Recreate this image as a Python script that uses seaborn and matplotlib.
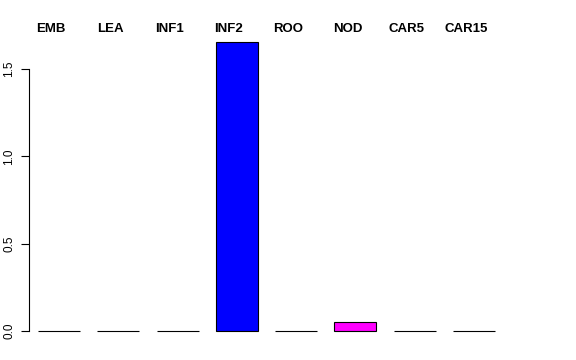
import matplotlib
matplotlib.use("Agg")
import matplotlib.pyplot as plt
import matplotlib.transforms as mtransforms
import seaborn as sns
import pandas as pd

categories = ["EMB", "LEA", "INF1", "INF2", "ROO", "NOD", "CAR5", "CAR15"]
values = [0.0, 0.0, 0.0, 1.655, 0.0, 0.054, 0.0, 0.0]
bar_colors = ["#FF0000", "#FF8000", "#FFFF00", "#0000FF", "#00FF00", "#FF00FF", "#00FFFF", "#808080"]
y_ticks = [0.0, 0.5, 1.0, 1.5]
y_tick_labels = ["0.0", "0.5", "1.0", "1.5"]

sns.set_style("white")
plt.rcParams["font.family"] = ["Liberation Sans", "DejaVu Sans"]
plt.rcParams["text.color"] = "black"
plt.rcParams["ytick.color"] = "black"
plt.rcParams["ytick.labelcolor"] = "black"

W, H = 576, 360
fig = plt.figure(figsize=(W / 100, H / 100), dpi=100)
left, right, top, bottom = 29, 504, 30.5, 342.5
ax = fig.add_axes([left / W, (H - bottom) / H, (right - left) / W, (bottom - top) / H])

df = pd.DataFrame({"cat": categories, "val": values})
sns.barplot(data=df, x="cat", y="val", hue="cat", palette=bar_colors,
            width=0.71, edgecolor="black", linewidth=0.8, legend=False,
            saturation=1, ax=ax)

ax.set_xlim(-0.507, 7.507)
ax.set_ylim(-0.066, 1.72)
ax.set_xlabel("")
ax.set_ylabel("")
ax.set_xticks([])
for s in ["top", "right", "bottom"]:
    ax.spines[s].set_visible(False)
ax.spines["left"].set_bounds(0, 1.5)
ax.spines["left"].set_color("black")
ax.spines["left"].set_linewidth(0.8)
ax.set_yticks(y_ticks)
ax.set_yticklabels(y_tick_labels, rotation=90, va="center", fontsize=8.5, color="black")
ax.tick_params(axis="y", length=5.8, width=0.8, color="black", labelcolor="black", pad=4, left=True)
ax.patch.set_visible(False)

trans = mtransforms.blended_transform_factory(ax.transData, fig.transFigure)
for i, c in enumerate(categories):
    ax.text(i - 0.135, (H - 29.5) / H, c, transform=trans, ha="center", va="center",
            fontsize=9.5, fontweight="bold", color="black", clip_on=False)

fig.savefig("out.png", dpi=100)
